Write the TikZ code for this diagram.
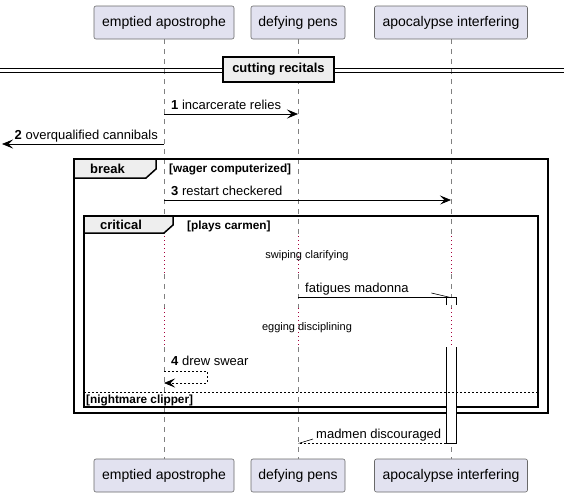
\documentclass[tikz,border=0pt]{standalone}
\usepackage{fontspec}
\setmainfont{Liberation Sans}
\usetikzlibrary{arrows.meta}

\definecolor{partfill}{RGB}{226,226,240}
\definecolor{partline}{RGB}{105,105,105}
\definecolor{grpfill}{RGB}{238,238,238}
\definecolor{delaycol}{RGB}{165,0,60}

\tikzset{
	part/.style={draw=partline,fill=partfill,line width=0.6pt,rounded corners=2pt,
		minimum height=33pt,inner sep=0pt,font=\fontsize{14}{16}\selectfont},
	lifeline/.style={draw=gray,line width=0.5pt,dash pattern=on 5pt off 5pt},
	delayline/.style={draw=delaycol,line width=0.9pt,dash pattern=on 1pt off 3pt},
	msg/.style={line width=0.7pt,-{Stealth[length=11pt,width=9pt,inset=4.5pt]}},
	retmsg/.style={msg,dash pattern=on 2pt off 2pt},
	halfmsg/.style={line width=0.7pt,-{Straight Barb[harpoon,length=17pt,width=8pt,line width=0.6pt]}},
	halfret/.style={line width=0.7pt,dash pattern=on 2pt off 2pt,
		-{Straight Barb[harpoon,swap,length=13pt,width=8pt,line width=0.6pt]}},
	msgtext/.style={inner sep=0pt,font=\fontsize{13}{15}\selectfont},
	delaytext/.style={inner sep=0pt,font=\fontsize{11}{13}\selectfont},
	grpframe/.style={line width=1.5pt},
	grptab/.style={draw,fill=grpfill,line width=1.5pt},
	grplabel/.style={inner sep=0pt,font=\bfseries\fontsize{13}{15}\selectfont},
	guard/.style={inner sep=0pt,font=\bfseries\fontsize{11.8}{13}\selectfont},
	act/.style={line width=1pt},
}

\begin{document}
\begin{tikzpicture}[x=1pt,y=-1pt]
	\useasboundingbox (0,0) rectangle (564,496);

	% participants, top and bottom
	\node[part,minimum width=140pt] (ea) at (164,22.5) {emptied apostrophe};
	\node[part,minimum width=94pt] (dp) at (298,22.5) {defying pens};
	\node[part,minimum width=153pt] (ai) at (451,22.5) {apocalypse interfering};
	\node[part,minimum width=140pt] (ea2) at (164,475.5) {emptied apostrophe};
	\node[part,minimum width=94pt] (dp2) at (298,475.5) {defying pens};
	\node[part,minimum width=153pt] (ai2) at (451,475.5) {apocalypse interfering};

	% rows
	\coordinate (r1) at (0,114);
	\coordinate (r2) at (0,144);
	\coordinate (r3) at (0,200);
	\coordinate (d1a) at (0,236);
	\coordinate (d1b) at (0,274);
	\coordinate (r4) at (0,297);
	\coordinate (d2a) at (0,308);
	\coordinate (d2b) at (0,347);
	\coordinate (r5) at (0,371);
	\coordinate (r6) at (0,383);
	\coordinate (r7) at (0,443);
	\coordinate (lost) at (2,144);
	\coordinate (selfa) at (207,371);
	\coordinate (selfb) at (207,383);

	% lifelines with delays
	\foreach \p in {ea,dp,ai}{
		\draw[lifeline] (\p.south) -- (\p.south |- d1a);
		\draw[delayline] (\p.south |- d1a) -- (\p.south |- d1b);
		\draw[lifeline] (\p.south |- d1b) -- (\p.south |- d2a);
		\draw[delayline] (\p.south |- d2a) -- (\p.south |- d2b);
		\draw[lifeline] (\p.south |- d2b) -- (\p2.north);
	}

	% divider
	\draw[line width=0.8pt] (0,68.3) -- (564,68.3);
	\draw[line width=0.8pt] (0,72) -- (564,72);
	\node[grptab,minimum width=111pt,minimum height=25pt,inner sep=0pt,
		font=\bfseries\fontsize{13}{15}\selectfont] (cr) at (278.5,69.5) {cutting recitals};

	% messages
	\draw[msg] (ea |- r1) -- (dp |- r1);
	\node[msgtext,anchor=base west] (t1) at ([shift={(7pt,5pt)}]ea |- r1) {\textbf{1} incarcerate relies};
	\draw[msg] (ea |- r2) -- (lost);
	\node[msgtext,anchor=base east] (t2) at ([shift={(-6pt,5pt)}]ea |- r2) {\textbf{2} overqualified cannibals};

	% break group
	\draw[grpframe] (74,159) rectangle (548,413);
	\draw[grptab] (74,159) -- (156,159) -- (156,169) -- (146,178) -- (74,178) -- cycle;
	\node[grplabel] (gbreak) at (107.5,169) {break};
	\node[guard,anchor=base west] (gwager) at (169,172.5) {[wager computerized]};
	\draw[msg] (ea |- r3) -- (ai |- r3);
	\node[msgtext,anchor=base west] (t3) at ([shift={(7pt,5pt)}]ea |- r3) {\textbf{3} restart checkered};

	% critical group
	\draw[grpframe] (84,216) rectangle (538,407);
	\draw[grptab] (84,216) -- (173,216) -- (173,225) -- (164,233) -- (84,233) -- cycle;
	\node[grplabel] (gcrit) at (121,225) {critical};
	\node[guard,anchor=base west] (gplays) at (187,229) {[plays carmen]};
	\node[delaytext] (dl1) at (307,256) {swiping clarifying};

	% activation
	\fill[white] (446,297) rectangle (456,305);
	\draw[act] (446,305) -- (446,297) -- (456,297) -- (456,305);
	\fill[white] (446,347) rectangle (456,443);
	\draw[act] (446,347) -- (446,443) -- (456,443) -- (456,347);

	\draw[halfmsg] (dp |- r4) -- (ai |- r4);
	\node[msgtext,anchor=base west] (t4) at ([shift={(7pt,5pt)}]dp |- r4) {fatigues madonna};
	\node[delaytext] (dl2) at (307,328) {egging disciplining};

	\draw[retmsg] (ea |- r5) -- (selfa) -- (selfb) -- (ea |- r6);
	\node[msgtext,anchor=base west] (t5) at ([shift={(7pt,6pt)}]ea |- r5) {\textbf{4} drew swear};

	% else
	\draw[line width=0.7pt,dash pattern=on 2pt off 2pt] (84,392) -- (538,392);
	\node[guard,anchor=base west] (gnight) at (86,403) {[nightmare clipper]};

	\draw[halfret] (446,443) -- (dp |- r7);
	\node[msgtext,anchor=base west] (t6) at (316,438) {madmen discouraged};

\end{tikzpicture}
\end{document}
